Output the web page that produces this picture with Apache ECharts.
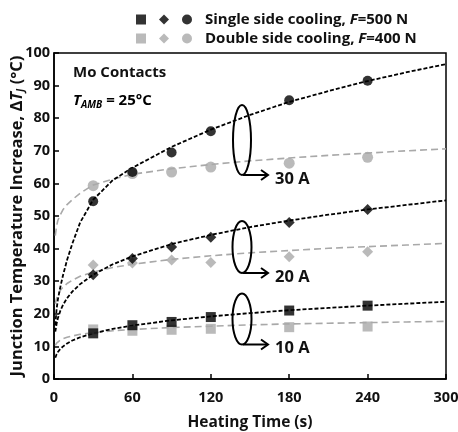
<!DOCTYPE html>
<html lang="en">
<head>
    <meta charset="utf-8"/>
    <script src="https://cdn.jsdelivr.net/npm/echarts@6.0.0/dist/echarts.min.js"></script>
    <title></title>
    <style>
        html, body { margin: 0; padding: 0; background: #fff; }
    </style>
</head>
<body>
<div id="main" style="width: 458px;height:432px;"></div>
<script type="text/javascript">

    // measured points (heating time in s)
    var timeS = [30, 60, 90, 120, 180, 240];
    var single10 = [14, 16.5, 17.5, 19, 21, 22.5];
    var single20 = [32, 37, 40.5, 43.5, 48, 52];
    var single30 = [54.5, 63.5, 69.5, 76, 85.5, 91.5];
    var double10 = [15.2, 14.8, 15.1, 15.4, 15.9, 16.1];
    var double20 = [35, 35.6, 36.5, 35.7, 37.5, 39];
    var double30 = [59.3, 63, 63.5, 65, 66.2, 68];

    // trend curves
    var trendX = [1, 2, 3, 5, 7, 10, 14, 20, 30, 45, 60, 90, 120, 150, 180, 210, 240, 270, 300];
    var trendS10 = [6.5, 7.6, 8.3, 9.3, 10.0, 10.9, 11.8, 12.8, 14.0, 15.4, 16.4, 18.0, 19.2, 20.2, 21.1, 21.8, 22.5, 23.1, 23.7];
    var trendS20 = [14.5, 17.0, 18.7, 21.1, 22.8, 24.8, 26.8, 29.1, 32.0, 35.2, 37.6, 41.4, 44.2, 46.6, 48.6, 50.4, 52.0, 53.4, 54.8];
    var trendS30 = [16.5, 21.5, 24.5, 28.5, 32, 36.5, 41.5, 48, 55, 61, 64.8, 71.2, 76.5, 81, 85, 88.3, 91.4, 94.1, 96.6];
    var trendD10 = [10.3, 11.0, 11.4, 12.0, 12.4, 12.8, 13.2, 13.7, 14.2, 14.8, 15.2, 15.8, 16.2, 16.6, 16.9, 17.1, 17.3, 17.5, 17.7];
    var trendD20 = [23.1, 24.8, 25.9, 27.3, 28.2, 29.3, 30.3, 31.5, 32.8, 34.2, 35.2, 36.7, 37.8, 38.7, 39.4, 40.1, 40.6, 41.1, 41.6];
    var trendD30 = [44, 47, 48.7, 50.5, 52, 53.5, 55, 57, 59.5, 61.3, 62.8, 64.5, 65.8, 66.9, 67.8, 68.6, 69.3, 70, 70.6];

    var currents = ['30 A', '20 A', '10 A'];

    function pairs(xs, ys) {
        return xs.map(function (x, i) { return [x, ys[i]]; });
    }

    var FONT = '"Open Sans"';
    var BLACK = '#000000';
    var GRAY = '#a9a9a9';
    var INK = '#111111';

    function trend(values, color, dash, width) {
        return {
            type: 'line',
            data: pairs(trendX, values),
            showSymbol: false,
            smooth: false,
            silent: true,
            z: color === BLACK ? 3 : 2,
            lineStyle: {color: color, width: width, type: dash}
        };
    }

    function points(name, values, symbol, color, size) {
        return {
            name: name,
            type: 'scatter',
            data: pairs(timeS, values),
            symbol: symbol,
            symbolSize: size,
            itemStyle: {color: color},
            z: color === BLACK ? 5 : 4
        };
    }

    var richText = {
        f: {fontFamily: FONT, fontWeight: 'bold', fontSize: 15, lineHeight: 18, color: INK, padding: [0, 0, 0, 8]},
        b: {fontFamily: FONT, fontWeight: 'bold', fontSize: 15, lineHeight: 18, color: INK},
        i: {fontFamily: FONT, fontWeight: 'bold', fontStyle: 'italic', fontSize: 15, lineHeight: 18, color: INK}
    };

    var myChart = echarts.init(document.getElementById('main'));

    // ellipse + arrow annotations
    var marks = [];
    var ellipses = [
        {cx: 242, cy: 140, rx: 9, ry: 35},
        {cx: 242, cy: 247, rx: 9.5, ry: 26},
        {cx: 242, cy: 319, rx: 9.5, ry: 25.5}
    ];
    ellipses.forEach(function (e, k) {
        marks.push({
            type: 'ellipse', shape: e, silent: true, z: 10,
            style: {fill: null, stroke: '#000', lineWidth: 2}
        });
        var yb = e.cy + e.ry;
        marks.push({
            type: 'polyline', silent: true, z: 10,
            shape: {points: [[e.cx + 1, yb], [e.cx + 25, yb]]},
            style: {stroke: '#000', lineWidth: 2}
        });
        marks.push({
            type: 'polyline', silent: true, z: 10,
            shape: {points: [[e.cx + 19, yb - 5], [e.cx + 26, yb], [e.cx + 19, yb + 5]]},
            style: {stroke: '#000', lineWidth: 2, fill: null}
        });
        marks.push({
            type: 'text', silent: true, z: 10,
            x: e.cx + 33, y: yb + 4,
            style: {
                text: currents[k], fill: INK, font: 'bold 16.5px ' + FONT,
                verticalAlign: 'middle'
            }
        });
    });
    marks.push({
        type: 'text', silent: true, z: 10, x: 73, y: 73,
        style: {text: 'Mo Contacts', fill: INK, font: 'bold 15px ' + FONT, verticalAlign: 'middle'}
    });
    marks.push({
        type: 'text', silent: true, z: 10, x: 73, y: 91,
        style: {
            text: '{i|T}{s|AMB}{b| = 25°C}',
            rich: {
                i: {fontFamily: FONT, fontWeight: 'bold', fontStyle: 'italic', fontSize: 15, color: INK, height: 20},
                s: {fontFamily: FONT, fontWeight: 'bold', fontStyle: 'italic', fontSize: 10, color: INK, padding: [9, 0, 0, 0]},
                b: {fontFamily: FONT, fontWeight: 'bold', fontSize: 15, color: INK}
            }
        }
    });

    var option = {
        animation: false,
        backgroundColor: '#fff',
        grid: {
            left: 54, right: 12, top: 53, bottom: 53,
            outerBoundsMode: 'none',
            containLabel: false,
            show: true, borderColor: '#000', borderWidth: 1.5
        },
        legend: [
            {
                left: 131, top: 7, itemWidth: 10, itemHeight: 10, itemGap: 13,
                data: ['S10', 'S20', 'S30'],
                formatter: function (n) { return n === 'S30' ? '{f|Single side cooling, }{i|F}{b|=500 N}' : ''; },
                textStyle: {rich: richText}
            },
            {
                left: 131, top: 26, itemWidth: 10, itemHeight: 10, itemGap: 13,
                data: ['D10', 'D20', 'D30'],
                formatter: function (n) { return n === 'D30' ? '{f|Double side cooling, }{i|F}{b|=400 N}' : ''; },
                textStyle: {rich: richText}
            }
        ],
        xAxis: {
            type: 'value', min: 0, max: 300, interval: 60,
            name: 'Heating Time (s)', nameLocation: 'middle', nameGap: 36,
            nameMoveOverlap: false,
            nameTextStyle: {fontFamily: FONT, fontWeight: 'bold', fontSize: 15.5, color: INK},
            axisLine: {lineStyle: {color: '#000', width: 1.5}},
            axisTick: {inside: true, length: 5, lineStyle: {color: '#000', width: 1.5}},
            axisLabel: {fontFamily: FONT, fontWeight: 'bold', fontSize: 14.5, color: INK, margin: 11},
            splitLine: {show: false}
        },
        yAxis: {
            type: 'value', min: 0, max: 100, interval: 10,
            name: '{b|Junction Temperature Increase, Δ}{i|T}{s|J}{b| (°C)}',
            nameLocation: 'middle', nameGap: 28,
            nameMoveOverlap: false,
            nameTextStyle: {
                rich: {
                    b: {fontFamily: FONT, fontWeight: 'bold', fontSize: 16.5, color: INK},
                    i: {fontFamily: FONT, fontWeight: 'bold', fontStyle: 'italic', fontSize: 16.5, color: INK},
                    s: {fontFamily: FONT, fontWeight: 'bold', fontStyle: 'italic', fontSize: 10, color: INK, padding: [8, 0, 0, 0]}
                }
            },
            axisLine: {show: true, lineStyle: {color: '#000', width: 1.5}},
            axisTick: {show: true, inside: true, length: 5, lineStyle: {color: '#000', width: 1.5}},
            axisLabel: {fontFamily: FONT, fontWeight: 'bold', fontSize: 14.5, color: INK, margin: 4},
            splitLine: {show: false}
        },
        graphic: marks,
        series: [
            trend(trendD10, GRAY, [7, 4], 1.6),
            trend(trendD20, GRAY, [7, 4], 1.6),
            trend(trendD30, GRAY, [7, 4], 1.6),
            trend(trendS10, BLACK, [4, 2], 1.8),
            trend(trendS20, BLACK, [4, 2], 1.8),
            trend(trendS30, BLACK, [4, 2], 1.8),
            points('D10', double10, 'rect', GRAY, 10),
            points('D20', double20, 'diamond', GRAY, 11),
            points('D30', double30, 'circle', GRAY, 11),
            points('S10', single10, 'rect', BLACK, 10),
            points('S20', single20, 'diamond', BLACK, 11),
            points('S30', single30, 'circle', BLACK, 10)
        ]
    };
    myChart.setOption(option);

    window.onresize = myChart.resize;
</script>
</body>
</html>
